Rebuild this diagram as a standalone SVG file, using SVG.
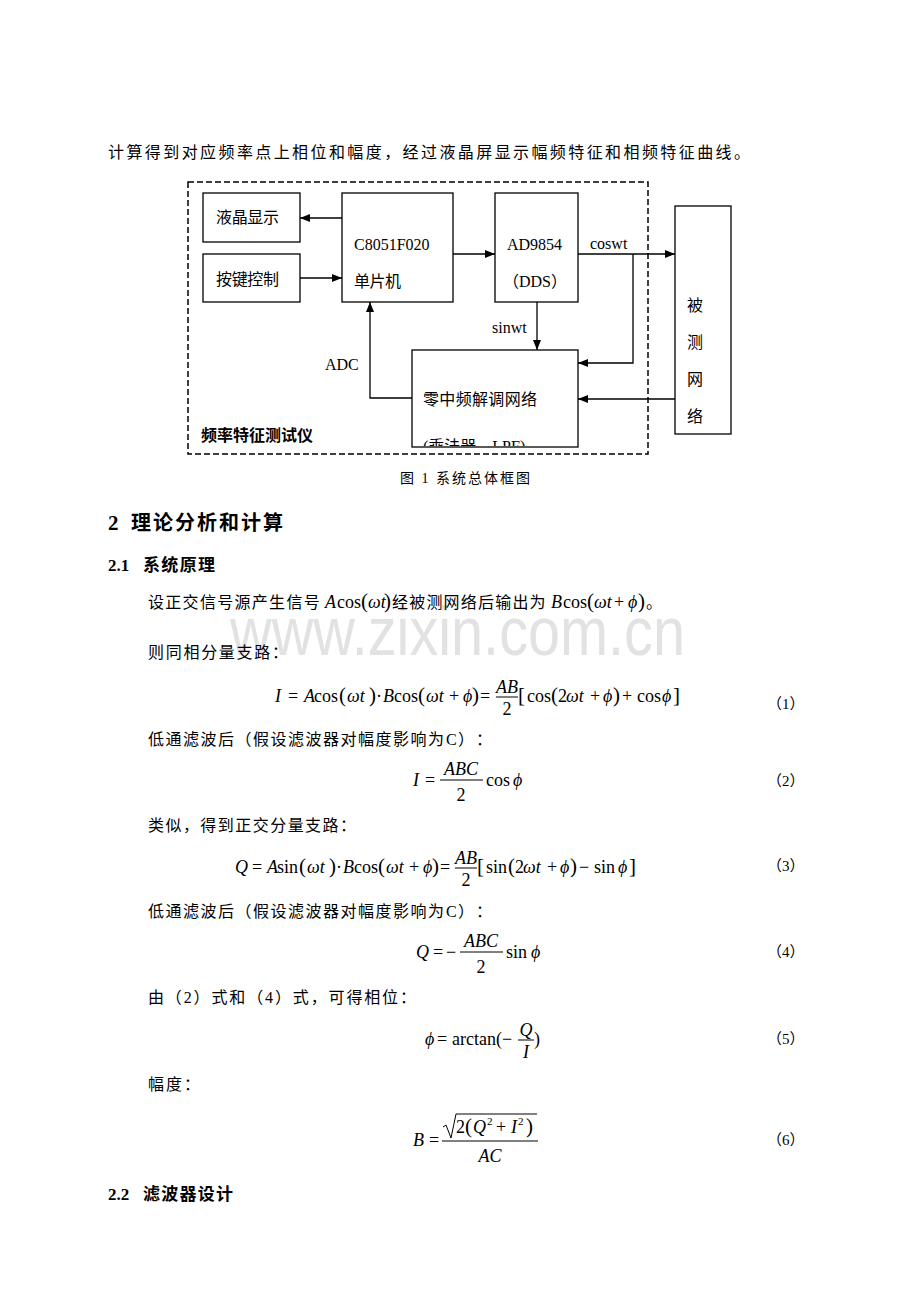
<svg xmlns="http://www.w3.org/2000/svg" width="920" height="1302" viewBox="0 0 920 1302">
<style>
.bg{fill:#ffffff}
.box{fill:none;stroke:#000;stroke-width:1.3}
.dash{fill:none;stroke:#000;stroke-width:1.5;stroke-dasharray:6 3}
.con{fill:none;stroke:#000;stroke-width:1.3}
.t{font-family:"Liberation Serif","Noto Sans CJK SC",serif;fill:#000}
.d{font-size:16px}
.b{font-size:16px}
.m{font-family:"Liberation Serif","DejaVu Serif",serif;font-size:18px;fill:#000}
.i{font-style:italic}
.p{font-size:21px}
.n{font-size:15px}
.wm{font-family:"Liberation Sans","Noto Sans",sans-serif;fill:#e2e2e2}
.h{font-weight:bold}
.rule{stroke:#000;stroke-width:1;fill:none}
</style>
<defs>
<marker id="ah" markerUnits="userSpaceOnUse" markerWidth="11" markerHeight="9" refX="10" refY="4" orient="auto">
<path d="M0,0 L10,4 L0,8 z" fill="#000"/>
</marker>
<clipPath id="demclip"><rect x="413" y="351" width="164" height="95"/></clipPath>
</defs>
<rect class="bg" x="0" y="0" width="920" height="1302"/>

<text class="wm" x="230" y="655" font-size="68" textLength="455" lengthAdjust="spacingAndGlyphs">www.zixin.com.cn</text>

<text class="t" x="108" y="158" font-size="16" textLength="642" lengthAdjust="spacing">计算得到对应频率点上相位和幅度，经过液晶屏显示幅频特征和相频特征曲线。</text>

<!-- diagram -->
<g id="frame"><rect class="dash" x="188" y="182" width="460" height="272"/>
<text class="t d h" x="201" y="441" textLength="112" lengthAdjust="spacing">频率特征测试仪</text></g>
<g id="lcd"><rect class="box" x="203" y="193" width="97" height="49"/><text class="t d" x="216" y="223" textLength="63" lengthAdjust="spacing">液晶显示</text></g>
<g id="keys"><rect class="box" x="203" y="254" width="97" height="48"/><text class="t d" x="216" y="285" textLength="63" lengthAdjust="spacing">按键控制</text></g>
<g id="mcu"><rect class="box" x="342" y="193" width="111" height="109"/><text class="t d" x="354" y="250">C8051F020</text><text class="t d" x="354" y="287" textLength="47" lengthAdjust="spacing">单片机</text></g>
<g id="dds"><rect class="box" x="495" y="193" width="83" height="109"/><text class="t d" x="507" y="250">AD9854</text><text class="t d" x="503" y="287">（DDS）</text></g>
<g id="dut"><rect class="box" x="675" y="206" width="56" height="228"/>
<text class="t d" x="695" y="311" text-anchor="middle">被</text>
<text class="t d" x="695" y="348" text-anchor="middle">测</text>
<text class="t d" x="695" y="385" text-anchor="middle">网</text>
<text class="t d" x="695" y="422" text-anchor="middle">络</text></g>
<g id="demod"><rect class="box" x="412" y="350" width="166" height="97"/><text class="t d" x="423" y="405" textLength="114" lengthAdjust="spacing">零中频解调网络</text>
<text class="t d" x="423" y="452" clip-path="url(#demclip)">(乘法器，LPF)</text></g>

<g id="connectors">
<line class="con" x1="342" y1="218" x2="300" y2="218" marker-end="url(#ah)"/>
<line class="con" x1="300" y1="278" x2="342" y2="278" marker-end="url(#ah)"/>
<line class="con" x1="453" y1="254" x2="495" y2="254" marker-end="url(#ah)"/>
<line class="con" x1="578" y1="254" x2="675" y2="254" marker-end="url(#ah)"/>
<polyline class="con" points="633,254 633,363 578,363" marker-end="url(#ah)"/>
<line class="con" x1="537" y1="302" x2="537" y2="350" marker-end="url(#ah)"/>
<line class="con" x1="675" y1="399" x2="578" y2="399" marker-end="url(#ah)"/>
<polyline class="con" points="412,398 370,398 370,302" marker-end="url(#ah)"/>
<text class="t d" x="590" y="249">coswt</text>
<text class="t d" x="492" y="333">sinwt</text>
<text class="t d" x="325" y="370">ADC</text>
</g>

<text class="t" x="400" y="483" font-size="14" textLength="130" lengthAdjust="spacing">图 1  系统总体框图</text>

<!-- headings -->
<text class="t h" x="108" y="530" font-size="21">2</text>
<text class="t h" x="131" y="530" font-size="20" textLength="152" lengthAdjust="spacing">理论分析和计算</text>
<text class="t h" x="108" y="571" font-size="17">2.1</text>
<text class="t h" x="143" y="571" font-size="17" textLength="72" lengthAdjust="spacing">系统原理</text>

<!-- sentence as one text -->
<text class="t" font-size="16" y="608"><tspan x="148 165.3 182.6 199.9 217.2 234.5 251.8 269.1 286.4 303.7">设正交信号源产生信号</tspan><tspan class="m i" x="325">A</tspan><tspan class="m" x="337">cos</tspan><tspan class="m p" x="361">(</tspan><tspan class="m i" x="368">ωt</tspan><tspan class="m p" x="384">)</tspan><tspan x="392 409.2 426.4 443.6 460.8 478 495.2 512.4 529.6">经被测网络后输出为</tspan><tspan class="m i" x="551">B</tspan><tspan class="m" x="563">cos</tspan><tspan class="m p" x="587">(</tspan><tspan class="m i" x="594">ωt</tspan><tspan class="m" x="614">+</tspan><tspan class="m i" x="628">ϕ</tspan><tspan class="m p" x="638">)</tspan><tspan x="646">。</tspan></text>

<text class="t b" x="148" y="658" textLength="140" lengthAdjust="spacing">则同相分量支路：</text>

<!-- formula 1 -->
<g id="eq1">
<text class="m" y="702"><tspan class="i" x="275">I</tspan><tspan x="288">=</tspan><tspan class="i" x="304">A</tspan><tspan x="314">cos</tspan><tspan class="p" x="339">(</tspan><tspan class="i" x="347">ωt</tspan><tspan class="p" x="369">)</tspan><tspan x="376">·</tspan><tspan class="i" x="383">B</tspan><tspan x="394">cos</tspan><tspan class="p" x="418">(</tspan><tspan class="i" x="426">ωt</tspan><tspan x="449">+</tspan><tspan class="i" x="463">ϕ</tspan><tspan class="p" x="472">)</tspan><tspan x="480">=</tspan></text>
<text class="m i" x="507" y="693" text-anchor="middle">AB</text>
<line class="rule" x1="496" y1="697" x2="518" y2="697"/>
<text class="m" x="507" y="715" text-anchor="middle">2</text>
<text class="m" y="702"><tspan class="p" x="518">[</tspan><tspan x="527">cos</tspan><tspan class="p" x="551">(</tspan><tspan x="558">2</tspan><tspan class="i" x="566">ωt</tspan><tspan x="590">+</tspan><tspan class="i" x="603">ϕ</tspan><tspan class="p" x="613">)</tspan><tspan x="622">+</tspan><tspan x="637">cos</tspan><tspan class="i" x="662">ϕ</tspan><tspan class="p" x="673">]</tspan></text>
<text class="t n" x="767" y="709">（1）</text>
</g>

<text class="t b" x="148" y="745" textLength="296" lengthAdjust="spacing">低通滤波后（假设滤波器对幅度影响为</text>
<text class="t" x="446" y="745" font-size="16">C</text>
<text class="t b" x="458" y="745" textLength="34" lengthAdjust="spacing">）：</text>

<!-- formula 2 -->
<g id="eq2">
<text class="m" y="786"><tspan class="i" x="413">I</tspan><tspan x="425">=</tspan></text>
<text class="m i" x="461" y="775" text-anchor="middle">ABC</text>
<line class="rule" x1="440" y1="780" x2="483" y2="780"/>
<text class="m" x="461" y="801" text-anchor="middle">2</text>
<text class="m" y="786"><tspan x="486">cos</tspan><tspan class="i" x="513">ϕ</tspan></text>
<text class="t n" x="767" y="786">（2）</text>
</g>

<text class="t b" x="148" y="831" textLength="208" lengthAdjust="spacing">类似，得到正交分量支路：</text>

<!-- formula 3 -->
<g id="eq3">
<text class="m" y="873"><tspan class="i" x="235">Q</tspan><tspan x="252">=</tspan><tspan class="i" x="267">A</tspan><tspan x="277">sin</tspan><tspan class="p" x="299">(</tspan><tspan class="i" x="307">ωt</tspan><tspan class="p" x="329">)</tspan><tspan x="336">·</tspan><tspan class="i" x="343">B</tspan><tspan x="354">cos</tspan><tspan class="p" x="378">(</tspan><tspan class="i" x="386">ωt</tspan><tspan x="409">+</tspan><tspan class="i" x="423">ϕ</tspan><tspan class="p" x="432">)</tspan><tspan x="440">=</tspan></text>
<text class="m i" x="466" y="864" text-anchor="middle">AB</text>
<line class="rule" x1="455" y1="868" x2="477" y2="868"/>
<text class="m" x="466" y="886" text-anchor="middle">2</text>
<text class="m" y="873"><tspan class="p" x="477">[</tspan><tspan x="486">sin</tspan><tspan class="p" x="508">(</tspan><tspan x="515">2</tspan><tspan class="i" x="523">ωt</tspan><tspan x="547">+</tspan><tspan class="i" x="560">ϕ</tspan><tspan class="p" x="570">)</tspan><tspan x="579">−</tspan><tspan x="594">sin</tspan><tspan class="i" x="618">ϕ</tspan><tspan class="p" x="629">]</tspan></text>
<text class="t n" x="767" y="871">（3）</text>
</g>

<text class="t b" x="148" y="917" textLength="296" lengthAdjust="spacing">低通滤波后（假设滤波器对幅度影响为</text>
<text class="t" x="446" y="917" font-size="16">C</text>
<text class="t b" x="458" y="917" textLength="34" lengthAdjust="spacing">）：</text>

<!-- formula 4 -->
<g id="eq4">
<text class="m" y="958"><tspan class="i" x="416">Q</tspan><tspan x="433">=</tspan><tspan x="446">−</tspan></text>
<text class="m i" x="481" y="947" text-anchor="middle">ABC</text>
<line class="rule" x1="460" y1="952" x2="503" y2="952"/>
<text class="m" x="481" y="973" text-anchor="middle">2</text>
<text class="m" y="958"><tspan x="506">sin</tspan><tspan class="i" x="531">ϕ</tspan></text>
<text class="t n" x="767" y="957">（4）</text>
</g>

<text class="t b" x="148" y="1003" textLength="268" lengthAdjust="spacing">由（2）式和（4）式，可得相位：</text>

<!-- formula 5 -->
<g id="eq5">
<text class="m" y="1045"><tspan class="i" x="425">ϕ</tspan><tspan x="437">=</tspan><tspan x="452">arctan(−</tspan></text>
<text class="m i" x="526" y="1036" text-anchor="middle">Q</text>
<line class="rule" x1="518" y1="1040" x2="534" y2="1040"/>
<text class="m i" x="526" y="1058" text-anchor="middle">I</text>
<text class="m" x="534" y="1045">)</text>
<text class="t n" x="767" y="1044">（5）</text>
</g>

<text class="t b" x="148" y="1090" textLength="52" lengthAdjust="spacing">幅度：</text>

<!-- formula 6 -->
<g id="eq6">
<text class="m" y="1146"><tspan class="i" x="413">B</tspan><tspan x="429">=</tspan></text>
<path class="rule" d="M443,1127 L446,1125 L451,1138 L456,1114 L537,1114"/>
<text class="m" y="1133"><tspan x="456">2</tspan><tspan class="p" x="465">(</tspan><tspan class="i" x="473">Q</tspan><tspan x="487" y="1125" font-size="11">2</tspan><tspan x="496" y="1133">+</tspan><tspan class="i" x="511">I</tspan><tspan x="518" y="1125" font-size="11">2</tspan><tspan class="p" x="526" y="1133">)</tspan></text>
<line class="rule" x1="442" y1="1141" x2="538" y2="1141"/>
<text class="m i" x="490" y="1162" text-anchor="middle">AC</text>
<text class="t n" x="767" y="1145">（6）</text>
</g>

<text class="t h" x="108" y="1200" font-size="17">2.2</text>
<text class="t h" x="143" y="1200" font-size="17" textLength="90" lengthAdjust="spacing">滤波器设计</text>
</svg>
